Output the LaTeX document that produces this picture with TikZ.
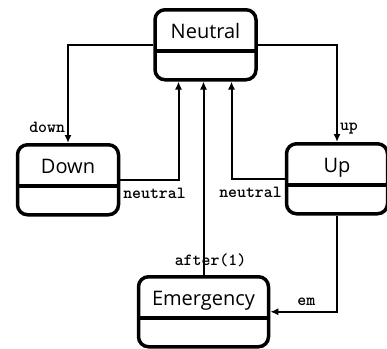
\documentclass[tikz,border=0pt]{standalone}
\usepackage{fontspec}
\newfontfamily\statefont{Open Sans}
\usetikzlibrary{arrows.meta,positioning}

\begin{document}
\begin{tikzpicture}[
    x=1pt, y=-1pt,
    state/.style={rectangle, draw, line width=3.5pt, rounded corners=10pt, minimum width=101pt, inner xsep=10pt, inner ysep=8pt, text height=21pt, text depth=33pt, font=\statefont\fontsize{20}{24}\selectfont, fill=white,
        path picture={\draw[line width=3.5pt] ([yshift=-41pt]path picture bounding box.north west) -- ([yshift=-41pt]path picture bounding box.north east);}},
    trans/.style={-{Latex[length=8pt,width=7pt]}, line width=2pt},
    lbl/.style={font=\ttfamily\bfseries\fontsize{17}{20}\selectfont, inner sep=2pt}
]
    \useasboundingbox (0,0) rectangle (387,348);

    % States
    \node[state, anchor=north] (neutral) at (205.5,8) {Neutral};
    \node[state, anchor=north] (down) at (68,143) {Down};
    \node[state, anchor=north] (up) at (337,142) {Up};
    \node[state, anchor=north, minimum width=130pt] (emerg) at (203.5,275) {Emergency};

    % Transitions
    \draw[trans] (neutral.west) -| node[lbl, pos=0.92, left] {down} (down.north);
    \draw[trans] (neutral.east) -| node[lbl, pos=0.93, right] {up} (up.north);
    \draw[trans] (down.east) node[lbl, anchor=north west, yshift=-5pt] {neutral} -| ([xshift=-27pt]neutral.south);
    \draw[trans] (up.west) node[lbl, anchor=north east, yshift=-5pt] {neutral} -| ([xshift=26pt]neutral.south);
    \draw[trans] (emerg.north) node[lbl, anchor=base, xshift=7pt, yshift=10pt] {after(1)} -- (emerg.north |- neutral.south);
    \draw[trans] (up.south) |- node[lbl, pos=0.73, anchor=base, yshift=6pt] {em} (emerg.east);
\end{tikzpicture}
\end{document}
